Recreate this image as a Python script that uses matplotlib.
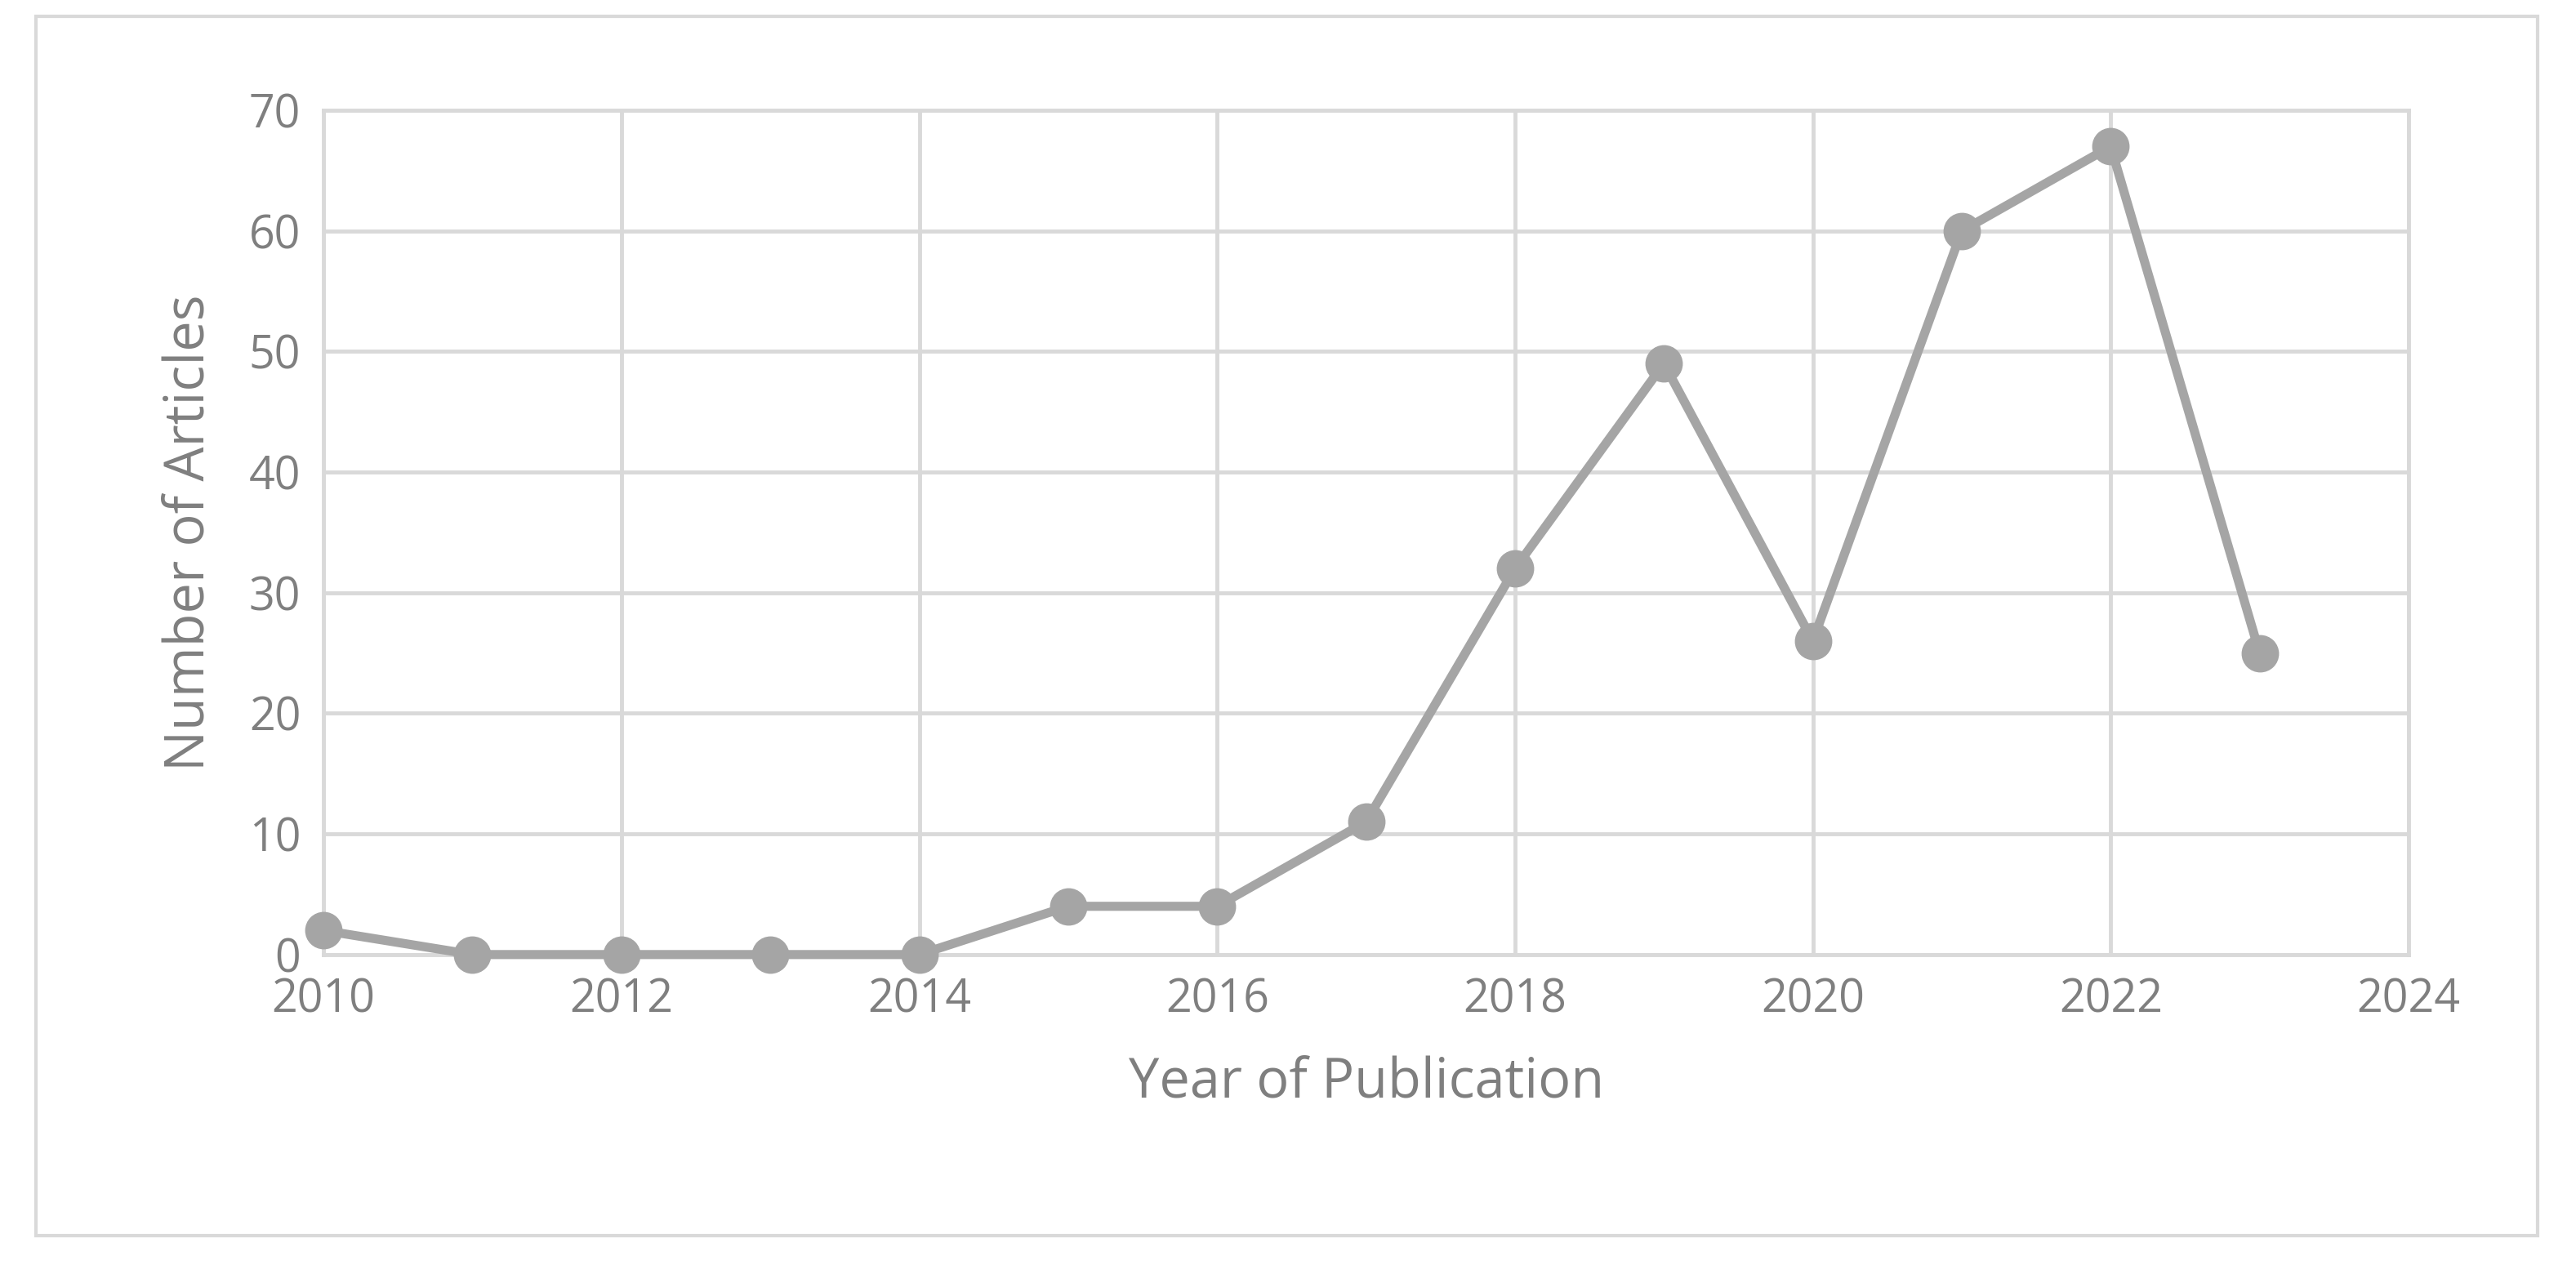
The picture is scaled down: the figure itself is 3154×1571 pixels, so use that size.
import matplotlib.pyplot as plt
from matplotlib.patches import Rectangle

# data
years = [2010, 2011, 2012, 2013, 2014, 2015, 2016, 2017, 2018, 2019, 2020, 2021, 2022, 2023]
articles = [2, 0, 0, 0, 0, 4, 4, 11, 32, 49, 26, 60, 67, 25]
x_ticks = [2010, 2012, 2014, 2016, 2018, 2020, 2022, 2024]
y_ticks = [0, 10, 20, 30, 40, 50, 60, 70]

TXT = "#7f7f7f"
GRID = "#d9d9d9"
LINE = "#a5a5a5"

plt.rcParams["font.family"] = ["Open Sans", "DejaVu Sans"]

fig = plt.figure(figsize=(31.54, 15.71), dpi=100)
fig.patches.append(Rectangle((0.014, 0.037), 0.971, 0.95, transform=fig.transFigure,
                             fill=False, edgecolor=GRID, linewidth=3))
ax = fig.add_axes([0.1256, 0.256, 0.8094, 0.658])

ax.plot(years, articles, color=LINE, linewidth=8, marker="o", markersize=32,
        clip_on=False, zorder=3)

ax.set_xlim(2010, 2024)
ax.set_ylim(0, 70)
ax.set_xticks(x_ticks)
ax.set_yticks(y_ticks)
ax.grid(True, color=GRID, linewidth=3.5)
for s in ax.spines.values():
    s.set_color(GRID)
    s.set_linewidth(3.5)
ax.tick_params(colors=TXT, labelsize=40, length=0, pad=20)
ax.set_xlabel("Year of Publication", color=TXT, fontsize=48, labelpad=28)
ax.set_ylabel("Number of Articles", color=TXT, fontsize=48, labelpad=28)

fig.savefig("out.png", dpi=100, facecolor="white")
